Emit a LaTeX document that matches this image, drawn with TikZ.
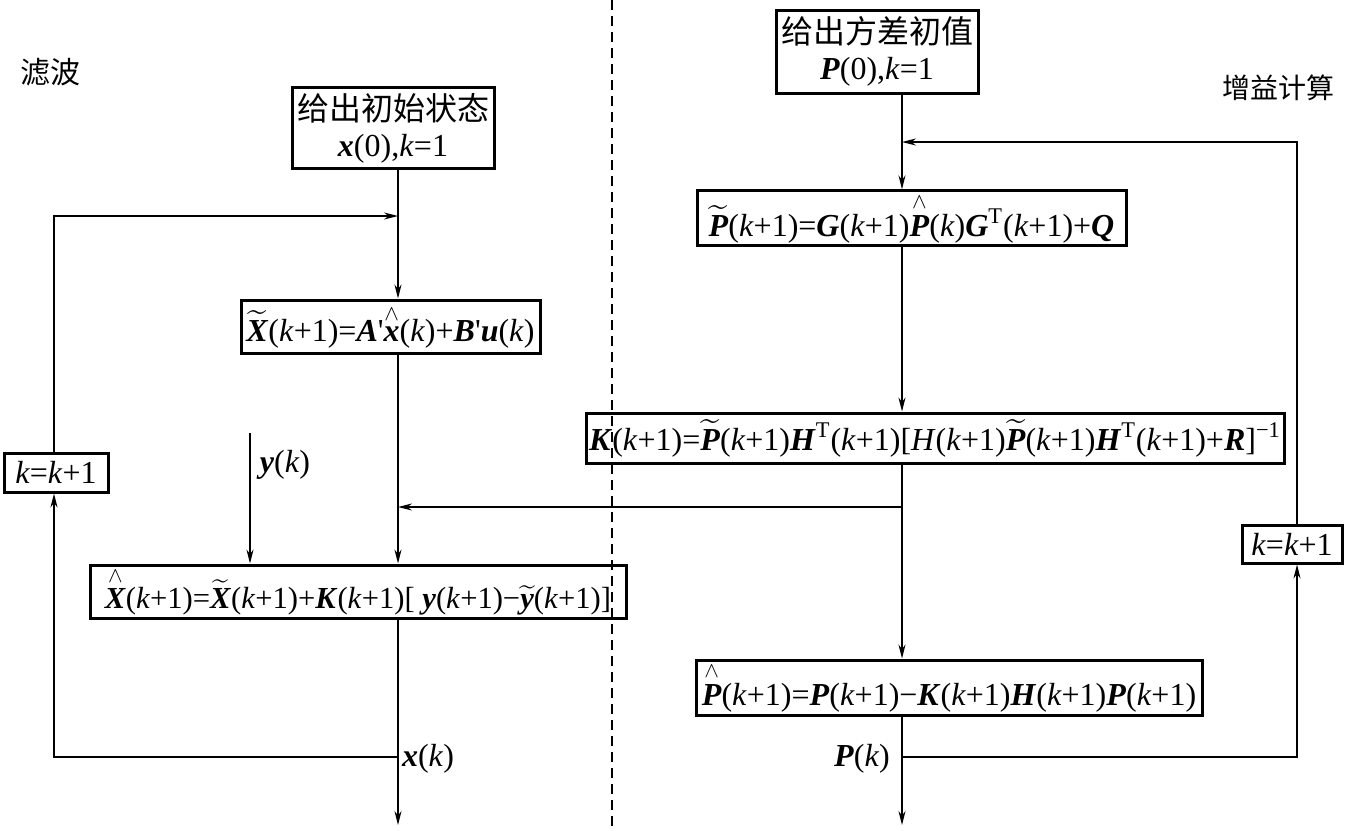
\documentclass[tikz,border=0pt]{standalone}
\usepackage{amsmath}
\usepackage{fontspec}
\setmainfont{Liberation Serif}
\newfontfamily\cjk{Noto Sans CJK SC}
\usetikzlibrary{arrows.meta}

\newcommand\bv[1]{\textbf{\textit{#1}}}
\newcommand\vtil[1]{$\widetilde{\mbox{\bv{#1}}}$}
\newcommand\vhat[1]{$\overset{\scriptstyle\wedge}{\mbox{\bv{#1}}}$}
\newcommand\kk{\textit{k}}
\newcommand\pr{\textquotesingle}

\begin{document}
\begin{tikzpicture}[x=0.5pt,y=-0.5pt,
    box/.style={draw,line width=1.5pt,inner sep=1pt,align=center,
      font=\fontsize{16}{18}\selectfont},
    arr/.style={line width=0.75pt,-{Stealth[length=7pt,width=3.5pt]}},
    lbl/.style={font=\fontsize{16}{18}\selectfont}]
  \useasboundingbox (0,0) rectangle (1357,831);

  % columns
  \coordinate (lx) at (398,0);
  \coordinate (rx) at (902,0);
  \coordinate (lcol) at (54,0);
  \coordinate (rcol) at (1297,0);

  \draw[line width=0.6pt,dash pattern=on 5pt off 3pt] (612,0) -- (612,831);

  \node[font=\fontsize{15}{17}\selectfont] (filt) at (50,72) {\cjk 滤波};
  \node[font=\fontsize{14}{16}\selectfont] (gcalc) at (1278,88) {\cjk 增益计算};

  % filter side
  \node[box,minimum width=101pt,minimum height=40.5pt] (init) at (393,128)
    {{\cjk 给出初始状态}\\\bv{x}(0),\kk=1};
  \node[box,minimum width=149.5pt,minimum height=26.5pt] (xpred) at (390.5,326.5)
    {\vtil{X}(\kk+1)=\bv{A}\pr\vhat{x}(\kk)+\bv{B}\pr\bv{u}(\kk)};
  \node[box,minimum width=268pt,minimum height=26.5pt,
    font=\fontsize{15.3}{18}\selectfont] (xest) at (358,591.5)
    {\vhat{X}(\kk+1)=\vtil{X}(\kk+1)+\bv{K}(\kk+1)[ \bv{y}(\kk+1)−\vtil{y}(\kk+1)]};
  \node[box,minimum width=52pt,minimum height=19.5pt] (incl) at (56,472.5)
    {\kk=\kk+1};

  % gain side
  \node[box,minimum width=101pt,minimum height=41.5pt] (var0) at (877,51.5)
    {{\cjk 给出方差初值}\\\bv{P}(0),\kk=1};
  \node[box,minimum width=214.5pt,minimum height=25pt] (ppred) at (911.5,218)
    {\vtil{P}(\kk+1)=\bv{G}(\kk+1)\vhat{P}(\kk)\bv{G}\textsuperscript{T}(\kk+1)+\bv{Q}};
  \node[box,minimum width=349pt,minimum height=25pt] (gain) at (935,438)
    {\bv{K}(\kk+1)=\vtil{P}(\kk+1)\bv{H}\textsuperscript{T}(\kk+1)[\textit{H}(\kk+1)\vtil{P}(\kk+1)\bv{H}\textsuperscript{T}(\kk+1)+\bv{R}]\textsuperscript{−1}};
  \node[box,minimum width=253pt,minimum height=27.5pt] (pest) at (949,687.5)
    {\vhat{P}(\kk+1)=\bv{P}(\kk+1)−\bv{K}(\kk+1)\bv{H}(\kk+1)\bv{P}(\kk+1)};
  \node[box,minimum width=50pt,minimum height=19pt] (incr) at (1292,544)
    {\kk=\kk+1};

  % free ends
  \coordinate (ytop) at (250,433);
  \coordinate (xout) at (398,757);
  \coordinate (lin) at (398,216);
  \coordinate (lend) at (398,825);
  \coordinate (kbr) at (902,507);
  \coordinate (kbl) at (398,507);
  \coordinate (pout) at (902,757);
  \coordinate (rin) at (902,142);
  \coordinate (rend) at (902,825);

  \node[lbl] (ylab) at (285,465) {\bv{y}(\kk)};
  \node[lbl] (xlab) at (428,759) {\bv{x}(\kk)};
  \node[lbl] (plab) at (862,759) {\bv{P}(\kk)};

  % filter loop
  \draw[arr] (init.south -| lx) -- (xpred.north -| lx);
  \draw[arr] (xpred.south -| lx) -- (xest.north -| lx);
  \draw[arr] (xest.south -| lx) -- (lend);
  \draw[arr] (ytop) -- (xest.north -| ytop);
  \draw[arr] (xout) -| (lcol |- incl.south);
  \draw[arr] (lcol |- incl.north) |- (lin);

  % gain loop
  \draw[arr] (var0.south -| rx) -- (ppred.north -| rx);
  \draw[arr] (ppred.south -| rx) -- (gain.north -| rx);
  \draw[arr] (gain.south -| rx) -- (pest.north -| rx);
  \draw[arr] (kbr) -- (kbl);
  \draw[arr] (pest.south -| rx) -- (rend);
  \draw[arr] (pout) -| (rcol |- incr.south);
  \draw[arr] (rcol |- incr.north) |- (rin);
\end{tikzpicture}
\end{document}
